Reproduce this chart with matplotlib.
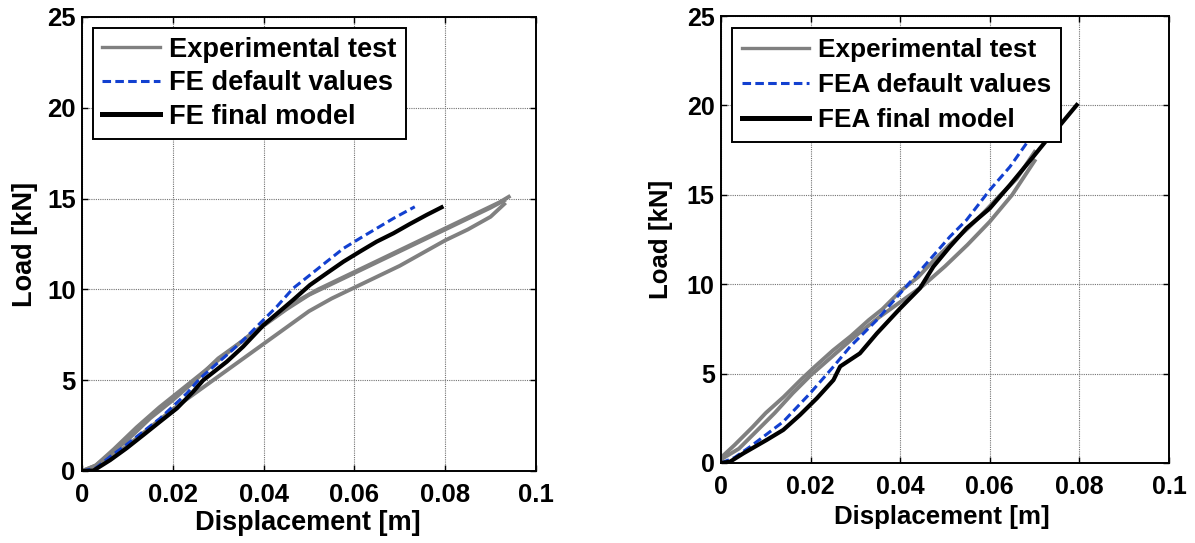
import matplotlib
matplotlib.use("Agg")
import matplotlib.pyplot as plt

# ---------------- data ----------------
x_ticks = [0, 0.02, 0.04, 0.06, 0.08, 0.1]
x_tick_labels = ["0", "0.02", "0.04", "0.06", "0.08", "0.1"]
y_ticks = [0, 5, 10, 15, 20, 25]
y_tick_labels = ["0", "5", "10", "15", "20", "25"]

# left panel
L_exp1_x = [0, 0.002, 0.005, 0.01, 0.015, 0.02, 0.025, 0.03, 0.035, 0.04, 0.045,
            0.05, 0.055, 0.06, 0.065, 0.07, 0.075, 0.08, 0.085, 0.09, 0.093]
L_exp1_y = [0, 0.1, 0.7, 1.7, 2.9, 3.9, 5.0, 6.2, 7.1, 8.0, 8.9,
            9.7, 10.3, 10.9, 11.5, 12.1, 12.7, 13.3, 13.9, 14.5, 14.9]
L_exp2_x = [0, 0.003, 0.007, 0.012, 0.017, 0.022, 0.027, 0.032, 0.037, 0.042,
            0.047, 0.052, 0.057, 0.062, 0.067, 0.072, 0.077, 0.082, 0.087, 0.092, 0.094]
L_exp2_y = [0, 0.3, 1.2, 2.4, 3.5, 4.5, 5.5, 6.5, 7.5, 8.4,
            9.3, 10.0, 10.6, 11.2, 11.8, 12.4, 13.0, 13.6, 14.2, 14.8, 15.1]
L_exp3_x = [0, 0.005, 0.01, 0.015, 0.02, 0.025, 0.03, 0.035, 0.04, 0.045, 0.05,
            0.055, 0.06, 0.065, 0.07, 0.075, 0.08, 0.085, 0.09, 0.093]
L_exp3_y = [0, 0.5, 1.4, 2.4, 3.4, 4.3, 5.2, 6.1, 7.0, 7.9, 8.8,
            9.5, 10.1, 10.7, 11.3, 12.0, 12.7, 13.3, 14.0, 14.7]
L_def_x = [0, 0.003, 0.0062, 0.0098, 0.0172, 0.0231, 0.026, 0.0319, 0.0355, 0.0392,
           0.0429, 0.0465, 0.0502, 0.0539, 0.0576, 0.0612, 0.0649, 0.0686, 0.0733]
L_def_y = [0, 0.15, 0.79, 1.45, 2.9, 4.28, 5.1, 6.39, 7.2, 8.13,
           9.05, 10.06, 10.79, 11.53, 12.26, 12.81, 13.36, 13.91, 14.55]
L_fin_x = [0, 0.0025, 0.0062, 0.0098, 0.0135, 0.0172, 0.0209, 0.0245, 0.0267, 0.0319,
           0.0355, 0.04, 0.0465, 0.0502, 0.0539, 0.0576, 0.0612, 0.0649, 0.0686,
           0.0722, 0.0759, 0.0792]
L_fin_y = [0, 0.02, 0.6, 1.25, 1.98, 2.72, 3.45, 4.37, 5.0, 6.02,
           6.85, 8.04, 9.42, 10.24, 10.89, 11.53, 12.08, 12.63, 13.09,
           13.6, 14.1, 14.52]

# right panel
R_exp1_x = [0, 0.003, 0.007, 0.01, 0.014, 0.018, 0.021, 0.025, 0.029, 0.033, 0.036,
            0.04, 0.044, 0.047, 0.051, 0.055, 0.059, 0.062, 0.066, 0.070]
R_exp1_y = [0.3, 1.0, 2.0, 2.8, 3.7, 4.7, 5.4, 6.3, 7.1, 8.0, 8.6,
            9.6, 10.4, 11.2, 12.2, 13.1, 14.1, 14.9, 15.9, 17.4]
R_exp2_x = [0, 0.004, 0.008, 0.012, 0.016, 0.02, 0.025, 0.03, 0.035, 0.04,
            0.045, 0.05, 0.055, 0.06, 0.065, 0.07]
R_exp2_y = [0.2, 0.8, 1.8, 2.8, 3.9, 4.9, 6.0, 7.1, 8.1, 9.0,
            9.9, 11.0, 12.2, 13.5, 15.0, 16.9]
R_def_x = [0, 0.003, 0.0065, 0.0139, 0.0199, 0.0251, 0.0288, 0.0348, 0.04, 0.0459,
           0.0511, 0.0548, 0.06, 0.0645, 0.0682, 0.072]
R_def_y = [0, 0.3, 0.91, 2.31, 3.9, 5.39, 6.5, 8.0, 9.49, 11.17,
           12.66, 13.59, 15.27, 16.57, 17.88, 19.3]
R_fin_x = [0, 0.002, 0.005, 0.0102, 0.0139, 0.0176, 0.0214, 0.0251, 0.0266, 0.031,
           0.0348, 0.04, 0.0444, 0.0474, 0.0511, 0.0548, 0.06, 0.0645, 0.0697,
           0.0727, 0.0757, 0.0794]
R_fin_y = [0, 0.07, 0.54, 1.29, 1.85, 2.68, 3.62, 4.64, 5.4, 6.13,
           7.25, 8.65, 9.77, 10.98, 12.1, 13.13, 14.24, 15.55, 17.13,
           18.06, 18.9, 20.02]

GRAY = "#808080"
BLUE = "#1240d0"

plt.rcParams["font.family"] = ["Liberation Sans", "DejaVu Sans"]
plt.rcParams["font.weight"] = "bold"

fig = plt.figure(figsize=(11.95, 5.43), dpi=100)
ax1 = fig.add_axes([82 / 1195, 1 - 471 / 543, 454 / 1195, 454 / 543])
ax2 = fig.add_axes([721 / 1195, 1 - 463 / 543, 448 / 1195, 447 / 543])


def style(ax, fs_tick, fs_label, xl_y, yl_x, xl_x):
    ax.set_xlim(0, 0.1)
    ax.set_ylim(0, 25)
    ax.set_xticks(x_ticks)
    ax.set_xticklabels(x_tick_labels)
    ax.set_yticks(y_ticks)
    ax.set_yticklabels(y_tick_labels)
    ax.tick_params(axis="both", direction="in", top=True, right=True,
                   length=4, width=1, labelsize=fs_tick)
    ax.tick_params(axis="x", pad=9)
    ax.tick_params(axis="y", pad=4.5)
    for lab in ax.get_xticklabels() + ax.get_yticklabels():
        lab.set_fontweight("bold")
    for sp in ax.spines.values():
        sp.set_linewidth(1.4)
    ax.grid(True, color="0.45", linestyle=(0, (1, 1)), linewidth=0.8)
    ax.set_axisbelow(True)
    ax.set_xlabel("Displacement [m]", fontsize=fs_label, fontweight="bold")
    ax.set_ylabel("Load [kN]", fontsize=fs_label, fontweight="bold")
    ax.xaxis.set_label_coords(xl_x, xl_y)
    ax.yaxis.set_label_coords(yl_x, 0.5)


# left panel
ax1.plot(L_exp1_x, L_exp1_y, color=GRAY, lw=2.8, label="Experimental test")
ax1.plot(L_exp2_x, L_exp2_y, color=GRAY, lw=2.8)
ax1.plot(L_exp3_x, L_exp3_y, color=GRAY, lw=2.8)
ax1.plot(L_def_x, L_def_y, color=BLUE, lw=2.2, dashes=(2.8, 1.4), label="FE default values")
ax1.plot(L_fin_x, L_fin_y, color="black", lw=3.0, label="FE final model")
style(ax1, 18.5, 19.5, -0.086, -0.097, 0.498)
leg1 = ax1.legend(loc="upper left", bbox_to_anchor=(0.0236, 0.9767), borderaxespad=0,
                  fontsize=19.6, fancybox=False, framealpha=1, edgecolor="black",
                  handlelength=2.15, handletextpad=0.33, labelspacing=0.28, borderpad=0.33)
leg1.get_frame().set_linewidth(1.4)
leg1.get_lines()[0].set_linewidth(2.4)
leg1.get_lines()[2].set_linewidth(3.6)

# right panel
ax2.plot(R_exp1_x, R_exp1_y, color=GRAY, lw=2.8, label="Experimental test")
ax2.plot(R_exp2_x, R_exp2_y, color=GRAY, lw=2.8)
ax2.plot(R_def_x, R_def_y, color=BLUE, lw=2.2, dashes=(2.8, 1.4), label="FEA default values")
ax2.plot(R_fin_x, R_fin_y, color="black", lw=3.0, label="FEA final model")
style(ax2, 18, 18.6, -0.095, -0.1075, 0.494)
leg2 = ax2.legend(loc="upper left", bbox_to_anchor=(0.0252, 0.9723), borderaxespad=0,
                  fontsize=18.8, fancybox=False, framealpha=1, edgecolor="black",
                  handlelength=2.55, handletextpad=0.35, labelspacing=0.41, borderpad=0.38)
leg2.get_frame().set_linewidth(1.4)
leg2.get_lines()[0].set_linewidth(2.4)
leg2.get_lines()[2].set_linewidth(3.6)

fig.savefig("out.png", dpi=100)
